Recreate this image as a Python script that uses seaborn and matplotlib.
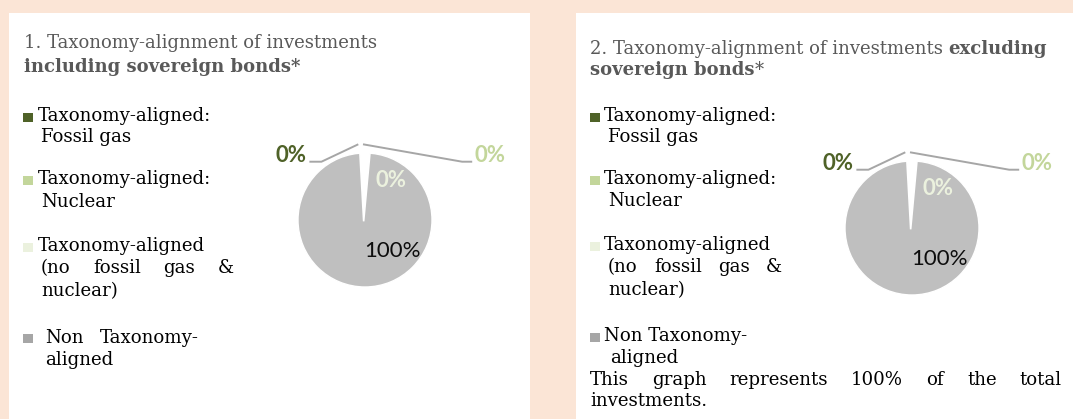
import numpy as np
import pandas as pd
import seaborn as sns
import matplotlib
matplotlib.use("Agg")
import matplotlib.pyplot as plt
from matplotlib.patches import Rectangle

sns.set_theme(style="white")
plt.rcParams['font.family'] = ['DejaVu Serif', 'Liberation Serif']

# ---------------- data ----------------
categories = ["Taxonomy-aligned: Fossil gas",
              "Taxonomy-aligned: Nuclear",
              "Taxonomy-aligned (no fossil gas & nuclear)",
              "Non Taxonomy-aligned"]
incl_values = [0, 0, 0, 100]   # including sovereign bonds
excl_values = [0, 0, 0, 100]   # excluding sovereign bonds
slice_colors = ["#4f6228", "#c3d69b", "#ebf1de", "#bfbfbf"]
legend_colors = ["#4f6228", "#c3d69b", "#ebf1de", "#a6a6a6"]
value_colors = ["#4f6228", "#c3d69b", "#ebf1de", "#0d0d0d"]
legend_lines = [["Taxonomy-aligned:", "Fossil gas"],
                ["Taxonomy-aligned:", "Nuclear"],
                ["Taxonomy-aligned", "(no fossil gas &", "nuclear)"],
                ["Non Taxonomy-", "aligned"]]
title_left = [[("1. Taxonomy-alignment of investments", "normal")],
              [("including sovereign bonds*", "bold")]]
title_right = [[("2. Taxonomy-alignment of investments ", "normal"), ("excluding", "bold")],
               [("sovereign bonds", "bold"), ("*", "normal")]]
footnote = ["This graph represents 100% of the total", "investments."]

df = pd.DataFrame({"category": categories, "incl": incl_values, "excl": excl_values,
                   "color": slice_colors})

# ---------------- figure ----------------
W, H = 1073, 419
fig = plt.figure(figsize=(W / 100, H / 100), dpi=100, facecolor="#fbe5d6")
renderer = fig.canvas.get_renderer()

BG_PANEL = "white"
fig.add_artist(Rectangle((9 / W, 0), (530 - 9) / W, (H - 13) / H, transform=fig.transFigure,
                         facecolor=BG_PANEL, edgecolor="none", zorder=0))
fig.add_artist(Rectangle((576 / W, 0), (W - 576) / W, (H - 13) / H, transform=fig.transFigure,
                         facecolor=BG_PANEL, edgecolor="none", zorder=0))

TXT = 13.1
TITLE_SIZE = 13.0
TITLE_C = "#595959"


def ptext(x, y, s, **kw):
    kw.setdefault("fontsize", TXT)
    kw.setdefault("va", "baseline")
    return fig.text(x / W, 1 - y / H, s, **kw)


def width(t):
    return t.get_window_extent(renderer).width


def segments(x, y, parts, **kw):
    for s, wgt in parts:
        t = ptext(x, y, s.strip(" "), fontweight=wgt, **kw)
        x += width(t)
        if s.endswith(" "):
            a = ptext(0, 0, "a a", fontweight=wgt, alpha=0, **kw)
            b = ptext(0, 0, "aa", fontweight=wgt, alpha=0, **kw)
            x += width(a) - width(b)
            a.remove(); b.remove()


def justify(words, x0, x1, y, **kw):
    ts = [ptext(0, y, w, **kw) for w in words]
    ws = [width(t) for t in ts]
    gap = (x1 - x0 - sum(ws)) / max(len(words) - 1, 1)
    x = x0
    for t, w in zip(ts, ws):
        t.set_x(x / W)
        x += w + gap


def square(x, ybase, color):
    fig.add_artist(Rectangle((x / W, 1 - ybase / H), 10 / W, 9 / H, transform=fig.transFigure,
                             facecolor=color, edgecolor="none", zorder=2))


R = 67


def draw_pie(cx, cy, values):
    ax = fig.add_axes([(cx - 100) / W, (H - cy - 100) / H, 200 / W, 200 / H])
    wedges, _ = ax.pie(values, colors=df["color"], startangle=90, counterclock=False,
                       radius=1, wedgeprops=dict(edgecolor="white", linewidth=1.0))
    lim = 100 / R
    ax.set_xlim(-lim, lim)
    ax.set_ylim(-lim, lim)
    ax.axis("off")
    # white slice border where the zero-size slices sit (tapered gap)
    th = np.deg2rad(wedges[0].theta1)
    half = np.deg2rad(4.3)
    ax.fill([0.02 * np.cos(th + half + np.pi / 2), 1.05 * np.cos(th - half),
             1.05 * np.cos(th + half), 0.02 * np.cos(th - half + np.pi / 2)],
            [-0.02, 1.05 * np.sin(th - half), 1.05 * np.sin(th + half), -0.02],
            color="white", lw=1.2, ec="white", zorder=3)
    sans = dict(family=["Lato", "DejaVu Sans"], fontsize=16)
    labels = [f"{v:.0f}%" for v in values]
    # fossil gas: outside left with leader line
    a0 = np.deg2rad((wedges[0].theta1 + wedges[0].theta2) / 2)
    ax0 = (np.cos(a0) * 1.13 - 0.10, np.sin(a0) * 1.13)
    ax.plot([ax0[0], -0.65, -0.83], [ax0[1], 0.87, 0.87], color="#a6a6a6", lw=1.4,
            clip_on=False, solid_capstyle="butt")
    ax.text(-1.10, 0.97, labels[0], color=value_colors[0], fontweight="bold",
            ha="center", va="center", **sans)
    # nuclear: outside right with leader line
    a1 = np.deg2rad((wedges[1].theta1 + wedges[1].theta2) / 2)
    ax1 = (np.cos(a1) * 1.13 - 0.03, np.sin(a1) * 1.13)
    ax.plot([ax1[0], 1.45, 1.60], [ax1[1], 0.87, 0.87], color="#a6a6a6", lw=1.4,
            clip_on=False, solid_capstyle="butt")
    ax.text(1.87, 0.97, labels[1], color=value_colors[1], fontweight="bold",
            ha="center", va="center", **sans)
    # no fossil gas & nuclear: inside
    ax.text(0.39, 0.59, labels[2], color=value_colors[2], fontweight="bold",
            ha="center", va="center", zorder=4, **sans)
    # non taxonomy-aligned
    ax.text(0.41, -0.47, labels[3], color=value_colors[3],
            ha="center", va="center", zorder=4, **sans)
    return ax


draw_pie(365, 220, df["incl"].tolist())
draw_pie(912, 228, df["excl"].tolist())

# ---------------- titles ----------------
segments(24, 48, title_left[0], color=TITLE_C, fontsize=TITLE_SIZE)
segments(24, 72, title_left[1], color=TITLE_C, fontsize=TITLE_SIZE)
segments(590, 54, title_right[0], color=TITLE_C, fontsize=TITLE_SIZE)
segments(590, 75, title_right[1], color=TITLE_C, fontsize=TITLE_SIZE)

# ---------------- legends ----------------
TC = "#000000"
# left panel
square(23, 122, legend_colors[0])
ptext(38, 121, legend_lines[0][0], color=TC)
ptext(41, 142, legend_lines[0][1], color=TC)
square(23, 185, legend_colors[1])
ptext(38, 184, legend_lines[1][0], color=TC)
ptext(41, 207, legend_lines[1][1], color=TC)
square(23, 252, legend_colors[2])
ptext(38, 251, legend_lines[2][0], color=TC)
justify(legend_lines[2][1].split(), 41, 234, 273, color=TC)
ptext(41, 296, legend_lines[2][2], color=TC)
square(23, 343, legend_colors[3])
justify(legend_lines[3][0].split(), 45, 199, 343, color=TC)
ptext(45, 365, legend_lines[3][1], color=TC)

# right panel
square(590, 122, legend_colors[0])
ptext(604, 121, legend_lines[0][0], color=TC)
ptext(608, 142, legend_lines[0][1], color=TC)
square(590, 185, legend_colors[1])
ptext(604, 184, legend_lines[1][0], color=TC)
ptext(608, 206, legend_lines[1][1], color=TC)
square(590, 251, legend_colors[2])
ptext(604, 250, legend_lines[2][0], color=TC)
justify(legend_lines[2][1].split(), 608, 782, 272, color=TC)
ptext(608, 295, legend_lines[2][2], color=TC)
square(590, 342, legend_colors[3])
ptext(604, 341, legend_lines[3][0], color=TC)
ptext(610, 363, legend_lines[3][1], color=TC)
justify(footnote[0].split(), 590, 1062, 385, color=TC)
ptext(590, 406, footnote[1], color=TC)

fig.savefig("out.png", dpi=100, facecolor=fig.get_facecolor())
